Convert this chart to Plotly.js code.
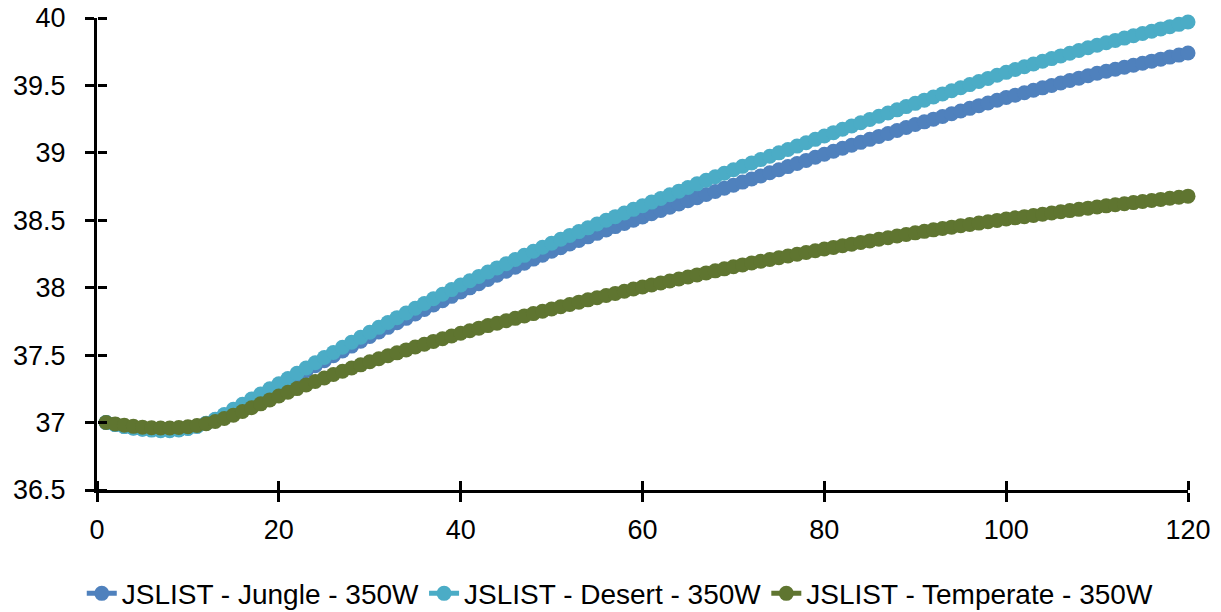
<!DOCTYPE html>
<html>
<head>
<meta charset="utf-8">
<script src="https://cdn.plot.ly/plotly-3.0.1.min.js"></script>
<style>html,body{margin:0;padding:0;background:#fff;}#chart{width:1221px;height:612px;}</style>
</head>
<body>
<div id="chart"></div>
<script>
const seriesNames = ["JSLIST - Jungle - 350W", "JSLIST - Desert - 350W", "JSLIST - Temperate - 350W"];
const seriesColors = ["#4F81BD", "#4BACC6", "#5F7530"];

const minutes = [1,2,3,4,5,6,7,8,9,10,11,12,13,14,15,16,17,18,19,20,
21,22,23,24,25,26,27,28,29,30,31,32,33,34,35,36,37,38,39,40,
41,42,43,44,45,46,47,48,49,50,51,52,53,54,55,56,57,58,59,60,
61,62,63,64,65,66,67,68,69,70,71,72,73,74,75,76,77,78,79,80,
81,82,83,84,85,86,87,88,89,90,91,92,93,94,95,96,97,98,99,100,
101,102,103,104,105,106,107,108,109,110,111,112,113,114,115,116,117,118,119,120];

const jungle = [37.000,36.986,36.972,36.961,36.953,36.948,36.945,36.945,36.949,36.958,
36.973,36.994,37.021,37.053,37.088,37.124,37.161,37.198,37.235,37.272,
37.310,37.347,37.384,37.421,37.458,37.495,37.531,37.567,37.603,37.638,
37.672,37.706,37.740,37.773,37.806,37.839,37.872,37.904,37.936,37.968,
37.999,38.030,38.061,38.092,38.122,38.152,38.182,38.212,38.241,38.270,
38.297,38.324,38.351,38.377,38.403,38.428,38.453,38.477,38.501,38.525,
38.549,38.573,38.597,38.621,38.645,38.668,38.691,38.714,38.737,38.760,
38.783,38.806,38.829,38.852,38.875,38.898,38.921,38.944,38.967,38.990,
39.012,39.034,39.056,39.078,39.100,39.122,39.144,39.166,39.188,39.210,
39.230,39.250,39.270,39.290,39.310,39.330,39.350,39.370,39.390,39.410,
39.428,39.446,39.464,39.482,39.500,39.518,39.536,39.554,39.572,39.590,
39.605,39.620,39.635,39.650,39.665,39.680,39.695,39.710,39.725,39.740];

const desert = [37.000,36.985,36.970,36.958,36.950,36.944,36.940,36.940,36.945,36.956,
36.972,36.995,37.025,37.060,37.098,37.136,37.174,37.212,37.250,37.288,
37.327,37.366,37.405,37.444,37.482,37.520,37.558,37.596,37.633,37.670,
37.706,37.742,37.778,37.813,37.848,37.883,37.918,37.952,37.986,38.020,
38.052,38.084,38.116,38.147,38.178,38.209,38.240,38.270,38.300,38.330,
38.359,38.388,38.416,38.444,38.472,38.500,38.527,38.554,38.581,38.608,
38.635,38.662,38.689,38.716,38.743,38.770,38.797,38.823,38.849,38.875,
38.900,38.925,38.950,38.975,39.000,39.025,39.050,39.075,39.100,39.125,
39.150,39.175,39.199,39.223,39.247,39.271,39.295,39.319,39.343,39.367,
39.391,39.414,39.437,39.460,39.483,39.506,39.529,39.552,39.575,39.597,
39.618,39.639,39.659,39.679,39.699,39.719,39.739,39.759,39.779,39.798,
39.816,39.834,39.851,39.868,39.885,39.902,39.919,39.936,39.953,39.970];

const temperate = [37.000,36.990,36.980,36.972,36.966,36.962,36.960,36.960,36.963,36.969,
36.978,36.991,37.008,37.030,37.055,37.082,37.110,37.139,37.168,37.197,
37.225,37.252,37.279,37.305,37.331,37.356,37.381,37.405,37.428,37.451,
37.473,37.495,37.517,37.539,37.560,37.581,37.602,37.622,37.642,37.662,
37.681,37.700,37.719,37.737,37.755,37.773,37.791,37.808,37.825,37.842,
37.859,37.876,37.893,37.910,37.926,37.942,37.958,37.974,37.990,38.005,
38.020,38.035,38.050,38.065,38.080,38.095,38.110,38.125,38.140,38.155,
38.169,38.183,38.196,38.209,38.222,38.235,38.248,38.261,38.274,38.287,
38.299,38.311,38.323,38.335,38.347,38.359,38.371,38.383,38.395,38.407,
38.418,38.429,38.439,38.449,38.459,38.469,38.479,38.489,38.499,38.509,
38.518,38.527,38.536,38.545,38.554,38.563,38.572,38.581,38.590,38.599,
38.607,38.615,38.623,38.631,38.639,38.647,38.655,38.663,38.671,38.679];

const xTicks = [0,20,40,60,80,100,120];
const yTicks = [36.5,37,37.5,38,38.5,39,39.5,40];

const allY = [jungle, desert, temperate];
const traces = allY.map((ys, i) => ({
  type: "scatter",
  mode: "lines+markers",
  name: seriesNames[i],
  x: minutes,
  y: ys,
  cliponaxis: false,
  line: {color: seriesColors[i], width: 5},
  marker: {color: seriesColors[i], size: 15, symbol: "circle"}
}));

// invisible copy on the helper axes that draw the inward half of each cross tick
traces.push({
  type: "scatter", mode: "markers", x: minutes, y: temperate,
  xaxis: "x2", yaxis: "y2", showlegend: false, hoverinfo: "skip",
  marker: {opacity: 0, size: 1}
});

const FONT = "Liberation Sans, Arial, sans-serif";
const axisCommon = {
  showgrid: false, zeroline: false, showline: true,
  linecolor: "#000", linewidth: 3,
  tickcolor: "#000", tickwidth: 3, ticklen: 9,
  tickfont: {family: FONT, size: 27, color: "#000"}
};

const layout = {
  width: 1221, height: 612,
  paper_bgcolor: "#fff", plot_bgcolor: "#fff",
  margin: {l: 97, r: 33, t: 18, b: 122},
  showlegend: true,
  legend: {
    orientation: "h", xref: "container", yref: "container",
    x: 0.508, xanchor: "center", y: 0.03, yanchor: "middle",
    font: {family: FONT, size: 28, color: "#000"},
    traceorder: "normal", itemwidth: 30
  },
  xaxis: Object.assign({}, axisCommon, {
    range: [0, 120], tickmode: "array", tickvals: xTicks, ticks: "outside", ticklabelstandoff: 5
  }),
  yaxis: Object.assign({}, axisCommon, {
    range: [36.5, 40], tickmode: "array", tickvals: yTicks, ticks: "outside", ticklabelstandoff: 14
  }),
  xaxis2: Object.assign({}, axisCommon, {
    overlaying: "x", side: "top", anchor: "free", position: 0, range: [0, 120],
    showline: false, tickmode: "array", tickvals: xTicks, ticks: "outside", showticklabels: false
  }),
  yaxis2: Object.assign({}, axisCommon, {
    overlaying: "y", side: "right", anchor: "free", position: 0, range: [36.5, 40],
    showline: false, tickmode: "array", tickvals: yTicks, ticks: "outside", showticklabels: false
  })
};

Plotly.newPlot("chart", traces, layout, {staticPlot: true, displayModeBar: false});
</script>
</body>
</html>
